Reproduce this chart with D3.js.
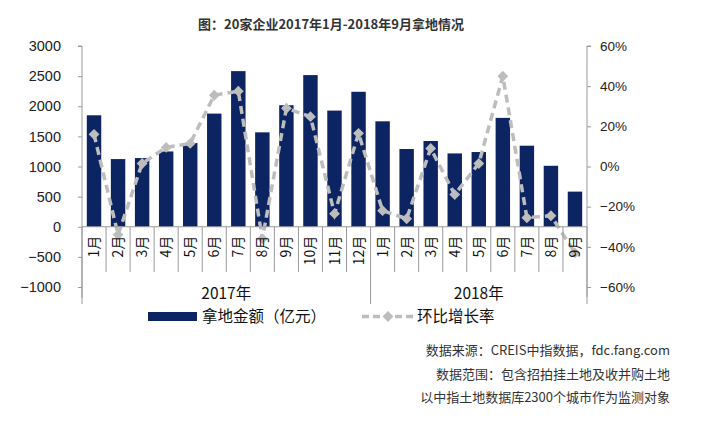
<!DOCTYPE html>
<html><head><meta charset="utf-8">
<script src="https://cdn.jsdelivr.net/npm/d3@7"></script>
<style>body{margin:0;background:#fff}svg{display:block}</style>
</head><body>
<svg id="c" width="702" height="421"></svg>
<script>
const months = ["1月","2月","3月","4月","5月","6月","7月","8月","9月","10月","11月","12月","1月","2月","3月","4月","5月","6月","7月","8月","9月"];
const years = [{label:"2017年", start:0, end:12},{label:"2018年", start:12, end:21}];
const amount = [1850,1123,1140,1250,1390,1878,2583,1567,2017,2517,1928,2240,1750,1290,1423,1217,1240,1807,1345,1012,583];
const growth = [0.16,-0.34,0.015,0.095,0.115,0.355,0.375,-0.36,0.29,0.248,-0.235,0.165,-0.22,-0.26,0.09,-0.14,0.015,0.45,-0.255,-0.245,-0.43];
const leftTicks = [-1000,-500,0,500,1000,1500,2000,2500,3000];
const rightTicks = [-0.6,-0.4,-0.2,0,0.2,0.4,0.6];
const title = "图：20家企业2017年1月-2018年9月拿地情况";
const notes = ["数据来源：CREIS中指数据，fdc.fang.com","数据范围：包含招拍挂土地及收并购土地","以中指土地数据库2300个城市作为监测对象"];
const legendBar = "拿地金额（亿元）", legendLine = "环比增长率";

const svg = d3.select("#c");
const X0 = 82, X1 = 587, YT = 46, YB = 287;
const barColor = "#0c2461", lineColor = "#bdbdbd", axisColor = "#9a9a9a";
const font = "'Liberation Sans', Arial, sans-serif";
const cjk = "'Noto Sans CJK SC', sans-serif";

const x = d3.scaleBand().domain(d3.range(months.length)).range([X0, X1]).paddingInner(0.4).paddingOuter(0.2);
const step = (X1 - X0) / months.length;
const yL = d3.scaleLinear().domain([-1000, 3000]).range([YB, YT]);
const yR = d3.scaleLinear().domain([-0.6, 0.6]).range([YB, YT]);

// title
svg.append("text").attr("x", 331).attr("y", 29).attr("text-anchor", "middle")
  .attr("font-family", cjk).attr("font-weight", "bold").attr("font-size", 13).attr("fill", "#333").text(title);

// left axis
const gl = svg.append("g").attr("transform", `translate(${X0},0)`)
  .call(d3.axisLeft(yL).tickValues(leftTicks).tickSize(4).tickPadding(17).tickFormat(d => d < 0 ? "\u2212" + Math.abs(d) : d));
gl.select(".domain").attr("stroke", axisColor).attr("d", `M-4,${YT}H0V${YB + 11}`);
gl.selectAll(".tick line").attr("stroke", axisColor);
gl.selectAll("text").attr("font-family", font).attr("font-size", 14.5).attr("fill", "#222");

// right axis
const gr = svg.append("g").attr("transform", `translate(${X1},0)`)
  .call(d3.axisRight(yR).tickValues(rightTicks).tickSize(4).tickPadding(9).tickFormat(d => (d < 0 ? "\u2212" : "") + Math.round(Math.abs(d) * 100) + "%"));
gr.select(".domain").attr("stroke", axisColor).attr("d", `M4,${YT}H0V${YB + 10}`);
gr.selectAll(".tick line").attr("stroke", axisColor);
gr.selectAll("text").attr("font-family", font).attr("font-size", 13.5).attr("fill", "#222");

// bars
svg.append("g").selectAll("rect").data(amount).join("rect")
  .attr("x", (d, i) => x(i)).attr("width", x.bandwidth())
  .attr("y", d => yL(Math.max(0, d))).attr("height", d => Math.abs(yL(d) - yL(0)))
  .attr("fill", barColor);

// growth line
const cx = i => x(i) + x.bandwidth() / 2;
svg.append("path").datum(growth)
  .attr("d", d3.line().x((d, i) => cx(i)).y(d => yR(d)))
  .attr("fill", "none").attr("stroke", lineColor).attr("stroke-width", 3.5).attr("stroke-dasharray", "8,5");
const diamond = d3.symbol().type(d3.symbolDiamond2).size(75);
svg.append("g").selectAll("path").data(growth).join("path")
  .attr("transform", (d, i) => `translate(${cx(i)},${yR(d)})`)
  .attr("d", diamond).attr("fill", lineColor);

// zero line and category separators
const y0 = yL(0);
svg.append("line").attr("x1", X0).attr("x2", X1).attr("y1", y0).attr("y2", y0).attr("stroke", axisColor);
const bounds = d3.range(months.length + 1);
const yearBounds = new Set(years.flatMap(yy => [yy.start, yy.end]));
svg.append("g").selectAll("line").data(bounds).join("line")
  .attr("x1", i => X0 + step * i).attr("x2", i => X0 + step * i)
  .attr("y1", y0).attr("y2", i => yearBounds.has(i) ? 304 : 272)
  .attr("stroke", axisColor);

// category labels
svg.append("g").selectAll("text").data(months).join("text")
  .attr("transform", (d, i) => `translate(${x(i) + x.bandwidth() / 2},${y0 + 9}) rotate(-90)`)
  .attr("text-anchor", "end").attr("dy", "0.36em")
  .attr("font-family", cjk).attr("font-size", 14).attr("fill", "#111").text(d => d);

// year labels
svg.append("g").selectAll("text").data(years).join("text")
  .attr("x", d => X0 + step * (d.start + d.end) / 2).attr("y", 299)
  .attr("text-anchor", "middle").attr("font-family", cjk).attr("font-size", 15.5).attr("fill", "#111").text(d => d.label);

// legend
svg.append("rect").attr("x", 148).attr("y", 312).attr("width", 49).attr("height", 9).attr("fill", barColor);
svg.append("text").attr("x", 202).attr("y", 322).attr("font-family", cjk).attr("font-size", 15.5).attr("fill", "#111").text(legendBar);
svg.append("line").attr("x1", 362).attr("x2", 413).attr("y1", 316.5).attr("y2", 316.5)
  .attr("stroke", lineColor).attr("stroke-width", 3.5).attr("stroke-dasharray", "7,4");
svg.append("path").attr("transform", "translate(388,316.5)").attr("d", diamond).attr("fill", lineColor);
svg.append("text").attr("x", 417).attr("y", 322).attr("font-family", cjk).attr("font-size", 15.5).attr("fill", "#111").text(legendLine);

// notes
svg.append("g").selectAll("text").data(notes).join("text")
  .attr("x", 670).attr("y", (d, i) => 355 + i * 23.5).attr("text-anchor", "end")
  .attr("font-family", cjk).attr("font-size", 13).attr("fill", "#333").text(d => d);
</script>
</body></html>
